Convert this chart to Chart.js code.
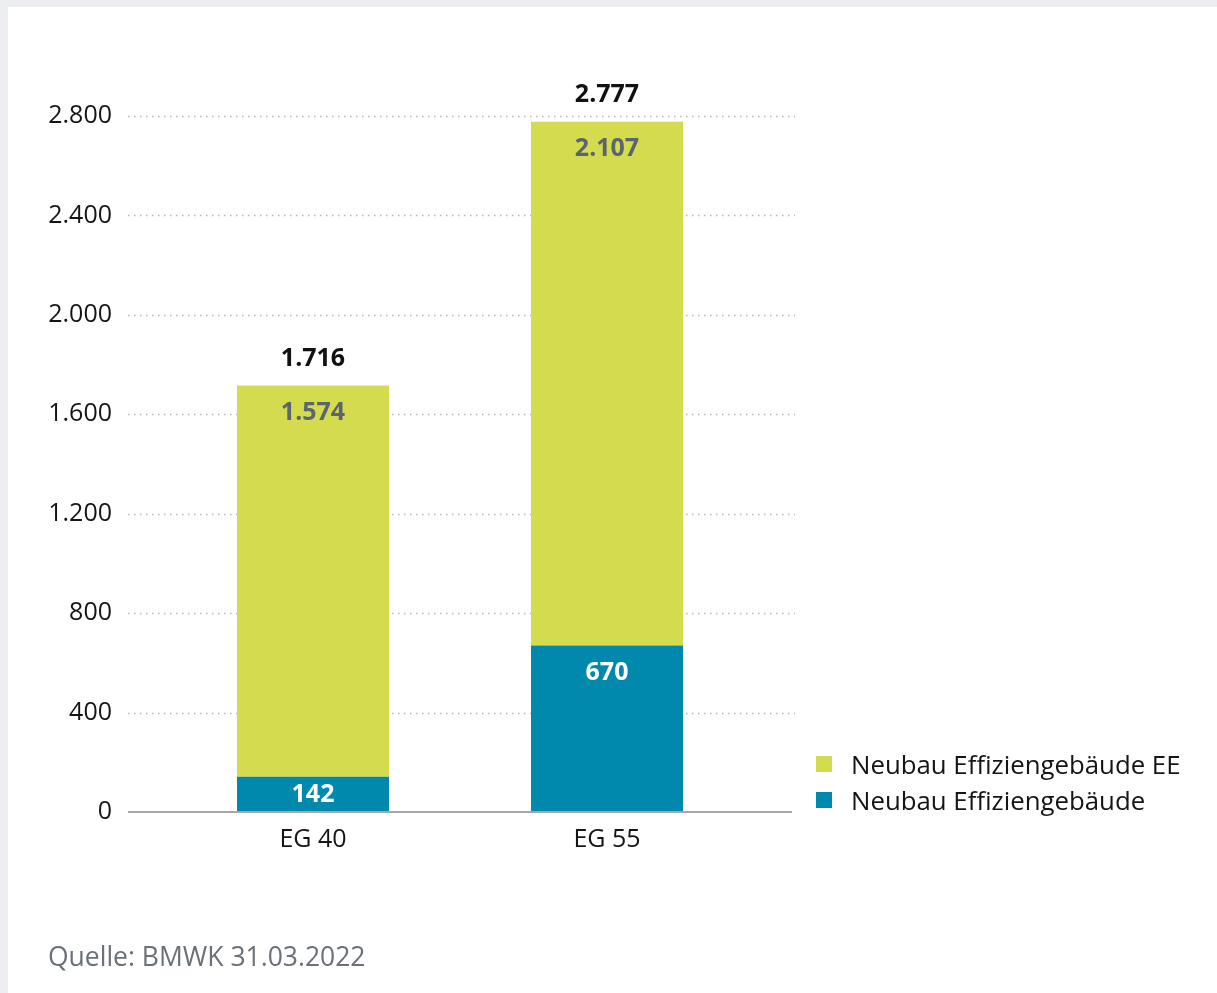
<!DOCTYPE html>
<html>
<head>
<meta charset="utf-8">
<script src="https://cdn.jsdelivr.net/npm/chart.js@4.4.1/dist/chart.umd.min.js"></script>
<style>
html,body{margin:0;padding:0;background:#eceef2;width:1217px;height:993px;overflow:hidden;font-family:"Open Sans",sans-serif;}
#card{position:absolute;left:8px;top:7px;right:0;bottom:0;background:#ffffff;}
#c{position:absolute;left:0;top:0;}
#legend{position:absolute;left:816px;top:746px;}
.row{display:flex;align-items:center;height:36px;font-size:25.8px;color:#151515;white-space:nowrap;}
.sw{width:16px;height:16px;margin-right:19px;flex:none;}
#source{position:absolute;left:48px;top:941px;font-size:26.5px;line-height:30px;color:#6b7178;white-space:nowrap;}
</style>
</head>
<body>
<div id="card"></div>
<canvas id="c" width="1217" height="993"></canvas>
<div id="legend"></div>
<div id="source">Quelle: BMWK 31.03.2022</div>
<script>
const categories = ['EG 40', 'EG 55'];
const seriesBaseLabel = 'Neubau Effiziengebäude';
const seriesEELabel = 'Neubau Effiziengebäude EE';
const baseValues = [142, 670];
const eeValues = [1574, 2107];
const totals = [1716, 2777];
const yTickValues = [0, 400, 800, 1200, 1600, 2000, 2400, 2800];

const COL_BASE = '#0089ac';
const COL_EE = '#d4db4e';
const FONT = '"Open Sans", sans-serif';

function fmt(n) {
  return String(n).replace(/\B(?=(\d{3})+(?!\d))/g, '.');
}

const gridPlugin = {
  id: 'extGrid',
  beforeDatasetsDraw(chart) {
    const ctx = chart.ctx, y = chart.scales.y, a = chart.chartArea;
    ctx.save();
    ctx.strokeStyle = '#b3b7bc';
    ctx.lineWidth = 1.5;
    ctx.setLineDash([1.5, 4.5]);
    yTickValues.forEach(v => {
      if (v === 0) return;
      const py = Math.round(y.getPixelForValue(v)) + 0.5;
      ctx.beginPath();
      ctx.moveTo(a.left - 38, py);
      ctx.lineTo(a.right + 41, py);
      ctx.stroke();
    });
    ctx.restore();
  },
  afterDatasetsDraw(chart) {
    const ctx = chart.ctx, y = chart.scales.y, a = chart.chartArea;
    ctx.save();
    const y0 = y.getPixelForValue(0);
    ctx.strokeStyle = '#a3a8ad';
    ctx.lineWidth = 2;
    ctx.beginPath();
    ctx.moveTo(a.left - 38, y0);
    ctx.lineTo(a.right + 38, y0);
    ctx.stroke();

    const m0 = chart.getDatasetMeta(0), m1 = chart.getDatasetMeta(1);
    ctx.textAlign = 'center';
    ctx.textBaseline = 'middle';
    ctx.font = 'bold 25px ' + FONT;
    categories.forEach((c, i) => {
      const b = m0.data[i], e = m1.data[i];
      const bTop = b.y, bBase = b.base;
      ctx.fillStyle = '#ffffff';
      ctx.fillText(fmt(baseValues[i]), b.x, Math.min(bTop + 27, (bTop + bBase) / 2 + 1));
      ctx.fillStyle = '#5b6570';
      ctx.fillText(fmt(eeValues[i]), e.x, e.y + 27);
      ctx.fillStyle = '#111111';
      ctx.fillText(fmt(totals[i]), e.x, y.getPixelForValue(totals[i]) - 27);
    });
    ctx.restore();
  }
};

const chart = new Chart(document.getElementById('c'), {
  type: 'bar',
  data: {
    labels: categories,
    datasets: [
      { label: seriesBaseLabel, data: baseValues, backgroundColor: COL_BASE, borderWidth: 0,
        categoryPercentage: 1, barPercentage: 0.517 },
      { label: seriesEELabel, data: eeValues, backgroundColor: COL_EE, borderWidth: 0,
        categoryPercentage: 1, barPercentage: 0.517 }
    ]
  },
  options: {
    responsive: false,
    animation: false,
    devicePixelRatio: 1,
    layout: { padding: { top: 116, right: 463, bottom: 0, left: 0 } },
    plugins: { legend: { display: false }, tooltip: { enabled: false } },
    scales: {
      x: {
        stacked: true,
        grid: { display: false, drawTicks: false },
        border: { display: false },
        ticks: { font: { family: FONT, size: 25 }, color: '#151515', padding: 13 },
        afterFit(s) { s.height = 181; }
      },
      y: {
        stacked: true,
        min: 0, max: 2800,
        afterBuildTicks(s) { s.ticks = yTickValues.map(v => ({ value: v })); },
        grid: { display: false, drawTicks: false },
        border: { display: false },
        ticks: { font: { family: FONT, size: 25 }, color: '#151515', padding: 54,
                 callback: v => fmt(v) },
        afterFit(s) { s.width = 166; }
      }
    }
  },
  plugins: [gridPlugin]
});

const leg = document.getElementById('legend');
chart.data.datasets.slice().reverse().forEach(ds => {
  const row = document.createElement('div');
  row.className = 'row';
  const sw = document.createElement('span');
  sw.className = 'sw';
  sw.style.background = ds.backgroundColor;
  const t = document.createElement('span');
  t.textContent = ds.label;
  row.appendChild(sw); row.appendChild(t);
  leg.appendChild(row);
});
</script>
</body>
</html>
